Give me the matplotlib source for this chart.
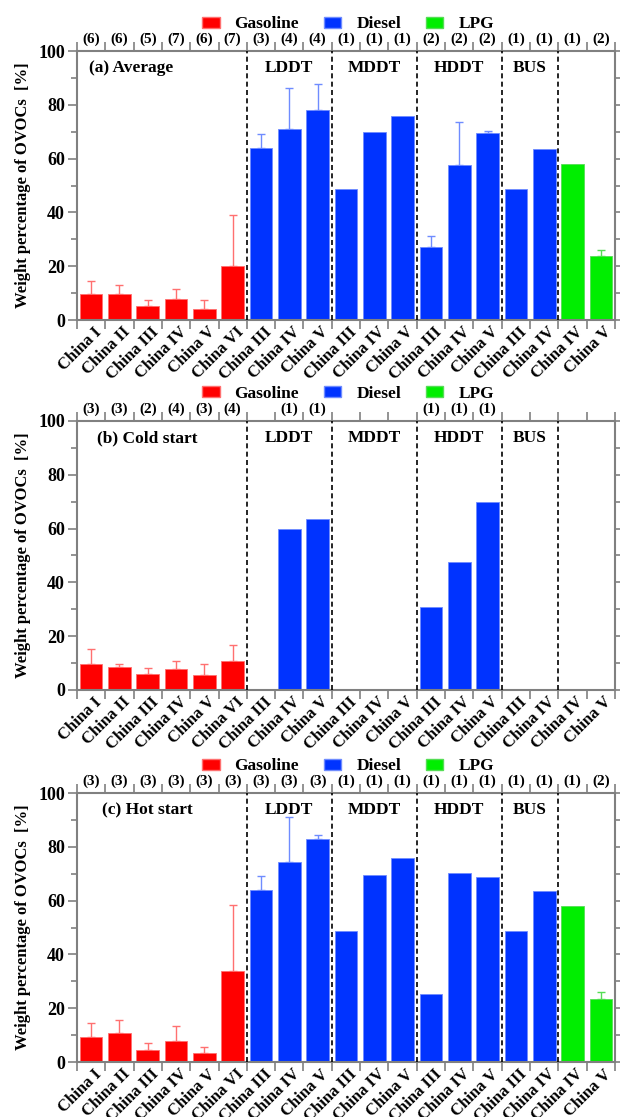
import numpy as np
import matplotlib
matplotlib.use('Agg')
import matplotlib.pyplot as plt
from matplotlib.patches import Patch
from matplotlib.ticker import MultipleLocator

plt.rcParams['font.family'] = ['Liberation Serif', 'DejaVu Serif']
plt.rcParams['font.weight'] = 'bold'

labels = ['China I', 'China II', 'China III', 'China IV', 'China V', 'China VI',
          'China III', 'China IV', 'China V',
          'China III', 'China IV', 'China V',
          'China III', 'China IV', 'China V',
          'China III', 'China IV',
          'China IV', 'China V']
fuel = ['G'] * 6 + ['D'] * 11 + ['L'] * 2
groups = ['LDDT', 'MDDT', 'HDDT', 'BUS']
group_pos = [7, 10, 13, 15.5]
dividers = [5.5, 8.5, 11.5, 14.5, 16.5]

nan = np.nan
avg_val = [9.5, 9.8, 5.2, 7.7, 4.2, 20.2, 64.1, 71.0, 78.2, 48.6, 69.8, 75.8,
           27.3, 57.7, 69.5, 48.6, 63.7, 58.0, 23.7]
avg_err = [5.0, 3.3, 2.4, 3.8, 3.1, 18.7, 5.0, 15.2, 9.5, 0, 0, 0,
           3.8, 16.0, 0.9, 0, 0, 0, 2.4]
avg_n = ['6', '6', '5', '7', '6', '7', '3', '4', '4', '1', '1', '1',
         '2', '2', '2', '1', '1', '1', '2']

cold_val = [9.8, 8.5, 6.1, 7.8, 5.5, 10.7, nan, 59.7, 63.4, nan, nan, nan,
            30.8, 47.6, 70.0, nan, nan, nan, nan]
cold_err = [5.6, 1.2, 2.0, 3.0, 4.0, 5.9, 0, 0, 0, 0, 0, 0,
            0, 0, 0, 0, 0, 0, 0]
cold_n = ['3', '3', '2', '4', '3', '4', '', '1', '1', '', '', '',
          '1', '1', '1', '', '', '', '']

hot_val = [9.2, 10.7, 4.5, 7.8, 3.5, 33.8, 63.8, 74.2, 82.9, 48.6, 69.6, 76.0,
           25.2, 70.1, 68.9, 48.7, 63.6, 57.9, 23.5]
hot_err = [5.3, 4.8, 2.4, 5.5, 2.2, 24.6, 5.5, 16.8, 1.4, 0, 0, 0,
           0, 0, 0, 0, 0, 0, 2.5]
hot_n = ['3'] * 9 + ['1'] * 9 + ['2']

panels = [('(a) Average', 1.4, avg_val, avg_err, avg_n),
          ('(b) Cold start', 2.0, cold_val, cold_err, cold_n),
          ('(c) Hot start', 2.0, hot_val, hot_err, hot_n)]

col = {'G': '#ff0000', 'D': '#0033ff', 'L': '#00ee00'}
ecol = {'G': '#ff7070', 'D': '#6f8cff', 'L': '#55dd55'}
spine = '#808080'

fig = plt.figure(figsize=(6.2, 11.17), dpi=100)
bottoms = [0.7135, 0.3823, 0.0492]
x = np.arange(len(labels))

for (title, tx, val, err, n), b in zip(panels, bottoms):
    ax = fig.add_axes([0.124, b, 0.868, 0.2408])
    for i in x:
        if np.isnan(val[i]):
            continue
        f = fuel[i]
        ax.bar(i, val[i], width=0.8, color=col[f], edgecolor=ecol[f], linewidth=0.6, zorder=2)
        if err[i] > 0:
            ax.errorbar(i, val[i], yerr=[[0], [err[i]]], fmt='none', ecolor=ecol[f],
                        elinewidth=1.0, capsize=3, capthick=1.0, zorder=1)
    for d in dividers:
        ax.axvline(d, color='black', ls=(0, (3, 2)), lw=1.2, zorder=3)
    ax.set_xlim(-0.5, len(labels) - 0.5)
    ax.set_ylim(0, 100)
    ax.set_xticks(np.arange(-0.5, len(labels), 1))
    ax.set_xticklabels([])
    ax.set_xticks(x + 0.1, minor=True)
    ax.set_xticklabels(labels, minor=True, rotation=45, ha='right', va='top',
                       rotation_mode='anchor', fontsize=12, fontweight='bold')
    ax.yaxis.set_major_locator(MultipleLocator(20))
    ax.yaxis.set_minor_locator(MultipleLocator(10))
    ax.tick_params(axis='both', which='both', direction='out', top=True, right=True,
                   color=spine, width=1.2)
    ax.tick_params(axis='both', which='major', length=6.5)
    ax.tick_params(axis='y', which='minor', length=4)
    ax.tick_params(axis='x', which='minor', length=0, pad=3)
    ax.tick_params(axis='y', labelsize=13, pad=2)
    for lab in ax.get_yticklabels():
        lab.set_fontweight('bold')
    for s in ax.spines.values():
        s.set_color(spine)
        s.set_linewidth(1.5)
    ax.set_ylabel('Weight percentage of OVOCs  [%]', fontsize=12, fontweight='bold', labelpad=5)
    ax.text(tx, 0.965, title, transform=ax.get_xaxis_transform(), ha='center', va='top',
            fontsize=12.5, fontweight='bold')
    for g, p in zip(groups, group_pos):
        ax.text(p, 0.965, g, transform=ax.get_xaxis_transform(), ha='center', va='top',
                fontsize=12.5, fontweight='bold')
    for i in x:
        if n[i]:
            ax.text(i, 1.02, '(' + n[i] + ')', transform=ax.get_xaxis_transform(),
                    ha='center', va='bottom', fontsize=11, fontweight='bold', clip_on=False)
    handles = [Patch(facecolor=col[k], edgecolor=ecol[k], label=l)
               for k, l in zip(['G', 'D', 'L'], ['Gasoline', 'Diesel', 'LPG'])]
    ax.legend(handles=handles, loc='center', bbox_to_anchor=(0.504, 1.10), ncol=3,
              frameon=False, fontsize=12.5, handlelength=1.0, handleheight=0.6,
              handletextpad=0.86, columnspacing=1.44, borderaxespad=0, borderpad=0)

fig.savefig('out.png', dpi=100)
